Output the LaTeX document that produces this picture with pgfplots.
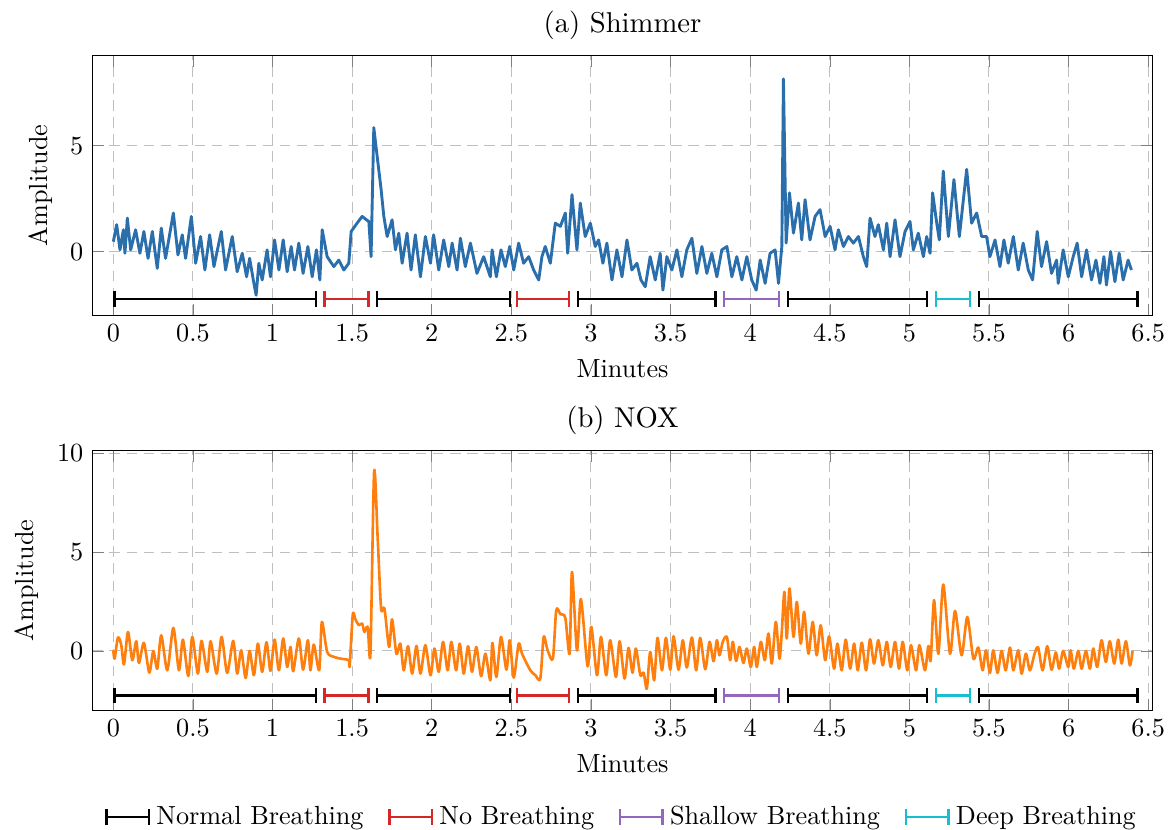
\documentclass[border=0pt]{standalone}
\usepackage{pgfplots}
\pgfplotsset{compat=1.18}
\usetikzlibrary{arrows.meta}
\definecolor{sigblue}{RGB}{42,110,172}
\definecolor{sigorange}{RGB}{255,127,14}
\definecolor{segred}{RGB}{214,39,40}
\definecolor{segpurple}{RGB}{148,103,189}
\definecolor{segcyan}{RGB}{23,190,207}
\tikzset{seg/.style={line width=0.9pt, {Bar[width=6pt]}-{Bar[width=6pt]}}}
\newcommand{\segs}{%
\addplot[black, seg, forget plot] coordinates {(0,-2.25) (1.28,-2.25)};
\addplot[segred, seg, forget plot] coordinates {(1.32,-2.25) (1.61,-2.25)};
\addplot[black, seg, forget plot] coordinates {(1.65,-2.25) (2.50,-2.25)};
\addplot[segred, seg, forget plot] coordinates {(2.53,-2.25) (2.87,-2.25)};
\addplot[black, seg, forget plot] coordinates {(2.91,-2.25) (3.79,-2.25)};
\addplot[segpurple, seg, forget plot] coordinates {(3.83,-2.25) (4.19,-2.25)};
\addplot[black, seg, forget plot] coordinates {(4.23,-2.25) (5.12,-2.25)};
\addplot[segcyan, seg, forget plot] coordinates {(5.16,-2.25) (5.39,-2.25)};
\addplot[black, seg, forget plot] coordinates {(5.43,-2.25) (6.44,-2.25)};
}
\pgfplotsset{sigaxis/.style={width=404.7pt, height=99pt, scale only axis,
  xmin=-0.131, xmax=6.528,
  xtick={0,0.5,1,1.5,2,2.5,3,3.5,4,4.5,5,5.5,6,6.5},
  grid=major, major grid style={dash pattern=on 4pt off 2.5pt, black!25},
  title style={font=\fontsize{10.95}{13.6}\selectfont, yshift=-3.5pt},
  xlabel={Minutes}, ylabel={Amplitude}}}
\begin{document}
\begin{tikzpicture}
\begin{axis}[sigaxis, title={(a) Shimmer}, ymin=-3, ymax=9.24, ytick={0,5}]
\addplot[sigblue, line width=1.1pt, line join=round] table {
0.000 0.47
0.021 1.27
0.042 0.08
0.063 1.03
0.073 -0.08
0.088 1.58
0.109 0.08
0.140 1.03
0.167 -0.08
0.192 0.95
0.218 -0.32
0.245 0.95
0.276 -0.79
0.301 1.11
0.328 -0.32
0.377 1.82
0.406 -0.16
0.433 0.79
0.454 -0.32
0.490 1.66
0.517 -0.55
0.548 0.71
0.575 -0.87
0.605 0.79
0.632 -0.71
0.678 0.95
0.705 -0.87
0.747 0.71
0.778 -0.95
0.810 -0.08
0.837 -1.19
0.856 -0.32
0.883 -1.50
0.897 -2.06
0.914 -0.55
0.935 -1.34
0.966 0.08
0.987 -1.19
1.013 0.55
1.040 -0.87
1.067 0.55
1.092 -0.95
1.117 0.24
1.138 -0.87
1.165 0.40
1.192 -1.03
1.222 0.24
1.249 -1.19
1.276 0.08
1.297 -1.34
1.312 1.03
1.343 -0.24
1.385 -0.71
1.416 -0.40
1.448 -0.87
1.479 -0.55
1.494 0.95
1.531 1.34
1.563 1.66
1.590 1.50
1.605 1.42
1.619 -0.24
1.636 5.85
1.657 4.51
1.682 2.93
1.699 1.66
1.720 0.71
1.751 1.50
1.772 0.08
1.793 0.87
1.814 -0.55
1.845 0.87
1.870 -0.87
1.897 0.79
1.929 -1.19
1.960 0.71
1.992 -0.55
2.012 0.79
2.044 -0.87
2.075 0.55
2.107 -0.71
2.128 0.40
2.159 -0.87
2.180 0.63
2.211 -0.71
2.243 0.40
2.284 -1.03
2.326 -0.24
2.368 -1.19
2.379 0.08
2.406 -1.19
2.435 0.08
2.462 -0.71
2.490 0.24
2.515 -0.87
2.546 0.40
2.577 -0.55
2.609 -0.24
2.640 -0.87
2.672 -1.34
2.692 -0.24
2.713 0.24
2.745 -0.55
2.776 1.34
2.808 1.19
2.839 1.82
2.854 -0.08
2.881 2.69
2.912 0.08
2.933 2.29
2.964 0.71
2.996 1.34
3.027 0.24
3.048 0.55
3.075 -0.55
3.100 0.40
3.132 -1.34
3.163 0.08
3.195 -1.19
3.226 0.55
3.257 -0.87
3.289 -0.55
3.314 -1.34
3.341 -1.66
3.372 -0.24
3.404 -1.34
3.435 -0.08
3.452 -1.82
3.477 -0.24
3.508 -0.87
3.540 0.08
3.571 -1.19
3.602 0.08
3.634 0.63
3.665 -1.03
3.697 0.24
3.728 -1.03
3.759 -0.08
3.791 -1.19
3.822 0.08
3.854 0.24
3.885 -1.19
3.916 -0.24
3.948 -1.34
3.979 -0.24
4.010 -1.34
4.038 -1.82
4.063 -0.40
4.094 -1.50
4.125 -0.08
4.157 0.08
4.178 -1.50
4.199 0.24
4.209 8.15
4.226 0.40
4.247 2.77
4.272 0.87
4.303 2.29
4.324 0.55
4.345 2.45
4.376 0.55
4.408 1.66
4.439 1.98
4.471 0.71
4.502 1.19
4.533 0.08
4.554 1.03
4.586 0.24
4.617 0.71
4.648 0.40
4.680 0.71
4.711 -0.24
4.732 -0.71
4.753 1.58
4.784 0.71
4.805 1.27
4.837 0.08
4.858 1.34
4.879 -0.24
4.910 1.50
4.941 -0.24
4.973 0.95
5.004 1.42
5.025 0.08
5.056 0.87
5.088 -0.24
5.109 0.71
5.130 -0.08
5.146 2.77
5.172 1.34
5.188 0.55
5.213 3.80
5.245 0.71
5.280 3.40
5.314 0.71
5.360 3.88
5.391 1.34
5.423 1.82
5.454 0.71
5.485 0.71
5.506 -0.24
5.538 0.55
5.569 -0.71
5.594 0.55
5.621 -0.55
5.653 0.71
5.684 -0.87
5.715 0.40
5.747 -0.87
5.774 -1.34
5.803 0.95
5.830 -0.71
5.862 0.47
5.893 -1.03
5.925 -0.40
5.935 -1.50
5.966 0.08
5.998 -1.19
6.029 -0.24
6.054 0.40
6.082 -1.19
6.113 0.08
6.144 -1.34
6.172 -0.40
6.197 -1.50
6.222 -0.24
6.238 -1.58
6.264 0.00
6.291 -1.42
6.318 -0.08
6.343 -1.34
6.374 -0.40
6.395 -0.87
};
\segs
\end{axis}
\begin{axis}[sigaxis, at={(0,-150.8pt)}, title={(b) NOX}, ymin=-3, ymax=10.13, ytick={0,5,10},
  legend columns=4,
  legend style={at={(0.5,-0.327)}, anchor=north, draw=none, fill=none,
    /tikz/every even column/.append style={column sep=7pt}}]
\addplot[sigorange, line width=1pt, line join=round, smooth, tension=0.45, forget plot] table {
0.000 0.03
0.008 -0.39
0.029 0.68
0.050 0.29
0.067 -0.68
0.092 0.96
0.119 -0.47
0.144 0.49
0.161 -0.61
0.192 0.41
0.226 -1.10
0.251 0.00
0.276 -0.90
0.301 0.79
0.339 -0.98
0.377 1.17
0.412 -0.98
0.437 0.57
0.471 -1.27
0.496 0.71
0.531 -1.15
0.554 0.51
0.590 -1.06
0.611 0.49
0.649 -1.15
0.680 0.71
0.715 -1.11
0.753 0.51
0.778 -1.15
0.803 0.03
0.831 -1.37
0.856 0.00
0.883 -1.23
0.908 0.37
0.935 -1.06
0.962 0.44
0.987 -1.01
1.013 0.57
1.040 -0.98
1.067 0.63
1.092 -0.81
1.113 0.20
1.130 -1.03
1.165 0.63
1.192 -0.95
1.222 0.54
1.238 -0.98
1.259 0.32
1.293 -0.98
1.310 1.47
1.343 -0.05
1.385 -0.30
1.427 -0.39
1.479 -0.47
1.485 -0.73
1.504 1.84
1.521 1.59
1.542 1.30
1.563 1.39
1.577 0.96
1.598 1.22
1.615 -0.14
1.638 9.07
1.661 5.61
1.682 2.15
1.703 2.15
1.732 0.20
1.751 1.60
1.778 -0.14
1.803 0.37
1.824 -0.98
1.851 0.24
1.877 -1.15
1.904 0.25
1.929 -1.15
1.960 0.29
1.992 -1.23
2.017 0.12
2.044 -1.06
2.071 0.46
2.100 -0.98
2.123 0.46
2.153 -0.98
2.176 0.37
2.201 -1.15
2.228 0.24
2.253 -1.06
2.280 0.20
2.310 -1.28
2.337 -0.14
2.368 -1.49
2.381 0.41
2.406 -1.32
2.435 0.71
2.469 -0.95
2.490 0.54
2.515 -1.35
2.546 0.37
2.567 -0.14
2.619 -0.98
2.651 -1.23
2.682 -1.40
2.703 0.71
2.728 0.03
2.761 -0.39
2.782 2.06
2.808 1.86
2.839 1.67
2.866 -0.14
2.881 4.00
2.912 0.03
2.937 2.62
2.979 -0.78
3.002 1.22
3.038 -1.23
3.063 0.71
3.096 -1.23
3.121 0.54
3.157 -1.32
3.180 0.49
3.211 -1.40
3.236 0.15
3.261 -1.10
3.282 0.12
3.310 -1.23
3.331 -1.10
3.351 -1.91
3.372 -0.05
3.397 -1.49
3.418 0.66
3.446 -0.98
3.471 0.66
3.498 -0.95
3.519 0.74
3.550 -0.95
3.577 0.54
3.602 -0.84
3.634 0.68
3.661 -0.98
3.686 0.66
3.718 -0.93
3.745 0.46
3.770 -0.52
3.791 0.54
3.807 -0.22
3.828 0.46
3.854 0.71
3.874 -0.47
3.891 0.46
3.912 -0.51
3.933 0.20
3.958 -0.61
3.979 0.12
4.004 -0.81
4.025 0.20
4.042 -0.81
4.067 0.46
4.092 -0.47
4.115 0.88
4.136 -0.64
4.161 1.47
4.184 -0.39
4.199 1.01
4.215 2.99
4.230 0.63
4.247 3.16
4.272 0.71
4.293 2.48
4.318 0.37
4.339 1.98
4.366 -0.14
4.393 1.47
4.418 -0.22
4.443 1.30
4.471 -0.47
4.496 0.74
4.527 -0.90
4.548 0.37
4.575 -0.98
4.600 0.57
4.628 -0.90
4.653 0.37
4.676 -0.98
4.701 0.42
4.728 -0.98
4.753 0.59
4.778 -0.64
4.805 0.54
4.833 -0.73
4.858 0.46
4.883 -0.81
4.910 0.46
4.935 -0.90
4.958 0.46
4.987 -0.98
5.010 0.29
5.042 -0.98
5.063 0.29
5.098 -0.98
5.119 0.25
5.134 -0.47
5.155 2.57
5.182 -0.14
5.213 3.36
5.255 -0.14
5.287 2.03
5.328 -0.22
5.364 1.72
5.402 -0.39
5.433 0.17
5.460 -0.98
5.481 0.03
5.506 -1.11
5.527 0.03
5.554 -1.11
5.579 0.00
5.605 -0.98
5.632 0.17
5.653 -0.98
5.684 0.03
5.705 -1.15
5.732 -0.14
5.757 -0.98
5.788 -0.10
5.809 0.17
5.837 -0.98
5.866 0.24
5.893 -0.95
5.920 -0.08
5.941 -0.90
5.966 0.00
5.998 -0.81
6.013 0.03
6.033 -0.90
6.061 0.00
6.082 -0.90
6.109 0.00
6.134 -0.90
6.155 0.12
6.180 -0.81
6.207 0.54
6.234 -0.56
6.259 0.49
6.287 -0.64
6.312 0.57
6.333 -0.64
6.360 0.49
6.385 -0.73
6.402 0.00
};
\segs
\addlegendimage{black, seg}
\addlegendentry{Normal Breathing}
\addlegendimage{segred, seg}
\addlegendentry{No Breathing}
\addlegendimage{segpurple, seg}
\addlegendentry{Shallow Breathing}
\addlegendimage{segcyan, seg}
\addlegendentry{Deep Breathing}
\end{axis}
\pgfresetboundingbox
\path[use as bounding box] (-35.3pt,-196.2pt) rectangle (412.1pt,120.3pt);
\end{tikzpicture}
\end{document}
